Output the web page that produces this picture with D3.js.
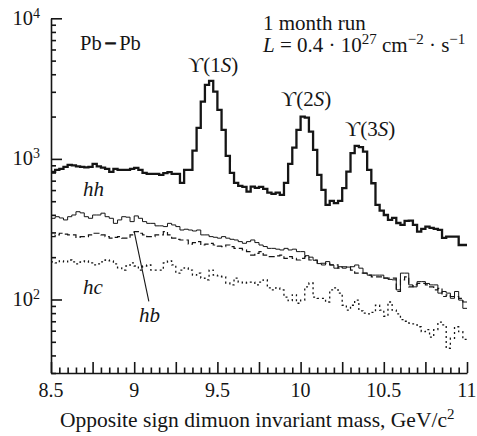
<!DOCTYPE html>
<html>
<head>
<meta charset="utf-8">
<script src="https://cdn.jsdelivr.net/npm/d3@7"></script>
<style>
  body { margin: 0; background: #fff; }
  svg { display: block; }
  text { font-family: "Liberation Serif", "Times New Roman", serif; fill: #151515; }
</style>
</head>
<body>
<svg id="chart" width="477" height="436"></svg>
<script>
// Dimuon invariant-mass spectra, Pb-Pb, 1 month run (bins of 25 MeV from 8.5 to 11 GeV)
const massMin = 8.5;
const massMax = 11.0;
const binWidth = 0.025;

// total opposite-sign spectrum (hh) with the three Upsilon peaks
const hhCounts = [
  808, 835, 849, 877, 906, 898, 884, 877, 870, 877,
  921, 884, 867, 849, 808, 849, 835, 835, 835, 849,
  863, 835, 795, 782, 782, 782, 769, 791, 805, 782,
  782, 675, 835, 835, 1146, 1663, 2557, 3363, 3590, 3013,
  2232, 1608, 1050, 795, 675, 642, 632, 585, 635, 622,
  632, 612, 575, 564, 575, 554, 675, 921, 1203, 1608,
  2000, 1968, 1564, 1159, 769, 602, 471, 502, 484, 502,
  619, 812, 1098, 1237, 1211, 1127, 835, 671, 471, 429,
  399, 368, 380, 350, 339, 362, 364, 339, 304, 318,
  330, 323, 318, 313, 274, 280, 280, 280, 244, 244
];

// summed background (thin solid line)
const bgCounts = [
  378, 388, 380, 368, 388, 399, 421, 413, 388, 378,
  399, 399, 411, 388, 378, 348, 368, 388, 385, 358,
  393, 378, 358, 348, 348, 334, 334, 330, 348, 339,
  330, 312, 316, 312, 307, 312, 288, 288, 280, 277,
  273, 280, 273, 268, 265, 258, 251, 258, 265, 254,
  244, 238, 231, 231, 228, 225, 231, 225, 228, 219,
  219, 205, 200, 190, 180, 176, 186, 176, 167, 171,
  167, 170, 171, 176, 167, 154, 149, 149, 149, 149,
  142, 139, 138, 117, 154, 154, 127, 123, 134, 134,
  130, 127, 127, 111, 114, 111, 102, 114, 99, 86.5
];

// hb component (dashed line)
const hbCounts = [
  280, 288, 296, 292, 288, 288, 277, 280, 280, 288,
  296, 296, 288, 280, 273, 277, 280, 273, 273, 288,
  304, 296, 288, 280, 280, 288, 288, 304, 288, 273,
  268, 265, 265, 248, 254, 258, 244, 248, 251, 244,
  240, 238, 244, 238, 231, 231, 225, 219, 207, 213,
  219, 207, 202, 202, 204, 207, 196, 202, 196, 191,
  196, 202, 191, 191, 181, 181, 181, 176, 176, 167,
  171, 171, 162, 154, 154, 154, 149, 145, 145, 145,
  142, 142, 142, 114, 138, 145, 123, 127, 130, 130,
  127, 123, 117, 120, 105, 108, 105, 105, 102, 96
];

// hc component (dotted line)
const hcCounts = [
  185, 182, 188, 185, 191, 185, 179, 185, 188, 182,
  176, 179, 185, 191, 188, 179, 168, 162, 173, 182,
  173, 162, 173, 176, 162, 162, 162, 182, 188, 176,
  154, 162, 168, 162, 149, 154, 142, 138, 162, 149,
  147, 145, 131, 127, 142, 133, 131, 133, 133, 127,
  133, 138, 121, 117, 121, 117, 104, 98, 108, 94,
  99, 123, 131, 104, 102, 102, 96, 117, 121, 111,
  91, 84, 91, 99, 83, 80, 79, 81, 91, 84,
  76, 96, 84, 79, 72, 70, 68, 67, 64, 59,
  61, 54, 61, 69, 66, 45, 53, 64, 59, 52
];

const xLabelTicks = [8.5, 9, 9.5, 10, 10.5, 11];
const yExponents = [2, 3, 4];

const svg = d3.select("#chart");
const x = d3.scaleLinear().domain([massMin, massMax]).range([51, 467]);
const y = d3.scaleLog().domain([30, 10000]).range([373, 18.3]);
const ink = "#151515";

// histogram outline: step through the left edges, close at the last right edge
function histPath(counts) {
  const pts = counts.map((c, i) => [massMin + i * binWidth, c]);
  pts.push([massMax, counts[counts.length - 1]]);
  return d3.line().x(d => x(d[0])).y(d => y(d[1])).curve(d3.curveStepAfter)(pts);
}

const series = [
  { counts: hcCounts, width: 1.3, dash: "2,3" },
  { counts: hbCounts, width: 1.2, dash: "6,3" },
  { counts: bgCounts, width: 1.0, dash: null },
  { counts: hhCounts, width: 2.3, dash: null }
];
svg.append("g").selectAll("path").data(series).join("path")
  .attr("d", d => histPath(d.counts))
  .attr("fill", "none")
  .attr("stroke", ink)
  .attr("stroke-width", d => d.width)
  .attr("stroke-dasharray", d => d.dash)
  .attr("stroke-linejoin", "miter");

// axes with inward ticks
const xMajor = d3.range(0, 11).map(i => massMin + i * 0.25);
const xMinor = d3.range(0, 51).map(i => massMin + i * 0.05)
  .filter(v => !xMajor.some(m => Math.abs(m - v) < 1e-6));

const yMajor = yExponents.map(e => Math.pow(10, e));
const yMinor = [];
[10, 100, 1000].forEach(p => d3.range(2, 10).forEach(k => {
  const v = k * p;
  if (v >= 30 && v < 10000) yMinor.push(v);
}));

function styleAxis(g) {
  g.selectAll("path, line").attr("stroke", ink).attr("stroke-width", 1.6);
  g.selectAll("text").remove();
}

svg.append("g").attr("transform", "translate(0,373)")
  .call(d3.axisBottom(x).tickValues(xMinor).tickSizeInner(-5.5).tickSizeOuter(0).tickFormat(""))
  .call(g => g.select(".domain").remove())
  .call(styleAxis);
svg.append("g").attr("transform", "translate(0,373)")
  .call(d3.axisBottom(x).tickValues(xMajor).tickSizeInner(-11).tickSizeOuter(0).tickFormat(""))
  .call(styleAxis);

svg.append("g").attr("transform", "translate(51,0)")
  .call(d3.axisLeft(y).tickValues(yMinor).tickSizeInner(-5).tickSizeOuter(0).tickFormat(""))
  .call(g => g.select(".domain").remove())
  .call(styleAxis);
svg.append("g").attr("transform", "translate(51,0)")
  .call(d3.axisLeft(y).tickValues(yMajor).tickSizeInner(-11).tickSizeOuter(0).tickFormat(""))
  .call(styleAxis);

// tick labels
svg.append("g").selectAll("text").data(xLabelTicks).join("text")
  .attr("x", d => x(d)).attr("y", 396.5)
  .attr("text-anchor", "middle").attr("font-size", 20)
  .text(d => d);

const yl = svg.append("g").selectAll("text").data(yExponents).join("text")
  .attr("x", 12.5).attr("y", d => y(Math.pow(10, d)) + 6.5)
  .attr("font-size", 20.5);
yl.append("tspan").text("10");
yl.append("tspan").attr("dy", -7).attr("font-size", 14).text(d => d);

// axis title
const title = svg.append("text").attr("x", 60).attr("y", 427).attr("font-size", 21.5);
title.append("tspan").text("Opposite sign dimuon invariant mass, GeV/c");
title.append("tspan").attr("dy", -8).attr("font-size", 15).text("2");

// annotations
const pb = svg.append("text").attr("x", 80).attr("y", 50).attr("font-size", 20.5);
pb.append("tspan").text("Pb");
pb.append("tspan").attr("dx", 3).attr("stroke", ink).attr("stroke-width", 1.2).text("\u2212");
pb.append("tspan").attr("dx", 3).text("Pb");

svg.append("text").attr("x", 263).attr("y", 30).attr("font-size", 21).text("1 month run");

const lum = svg.append("text").attr("x", 263).attr("y", 52).attr("font-size", 21);
lum.append("tspan").attr("font-style", "italic").text("L");
lum.append("tspan").text(" = 0.4 \u00B7 10");
lum.append("tspan").attr("dy", -8).attr("font-size", 15).text("27");
lum.append("tspan").attr("dy", 8).text(" cm");
lum.append("tspan").attr("dy", -8).attr("font-size", 15).text("\u22122");
lum.append("tspan").attr("dy", 8).text(" \u00B7 s");
lum.append("tspan").attr("dy", -8).attr("font-size", 15).text("\u22121");

const peaks = [
  { state: "1", x0: 188, y0: 71.5 },
  { state: "2", x0: 281, y0: 106 },
  { state: "3", x0: 345, y0: 136 }
];
peaks.forEach(p => {
  const t = svg.append("text").attr("x", p.x0).attr("y", p.y0).attr("font-size", 21);
  t.append("tspan").text("\u03D2(" + p.state);
  t.append("tspan").attr("font-style", "italic").text("S");
  t.append("tspan").text(")");
});

svg.append("text").attr("x", 83).attr("y", 196).attr("font-size", 21).attr("font-style", "italic").text("hh");
svg.append("text").attr("x", 83).attr("y", 294).attr("font-size", 21).attr("font-style", "italic").text("hc");
svg.append("text").attr("x", 139).attr("y", 321.5).attr("font-size", 21).attr("font-style", "italic").text("hb");

// leader from the hb label to its curve
svg.append("line")
  .attr("x1", x(9.0)).attr("y1", y(hbCounts[20]))
  .attr("x2", x(9.088)).attr("y2", y(97))
  .attr("stroke", ink).attr("stroke-width", 1.1);
</script>
</body>
</html>
